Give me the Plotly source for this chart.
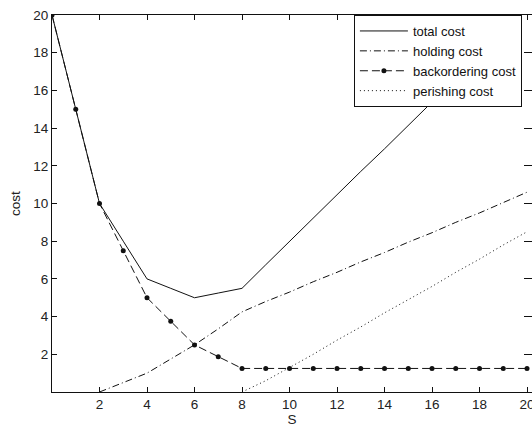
import plotly.graph_objects as go

S = list(range(0, 21))
total_cost = [20, 15, 10, 8, 6, 5.5, 5, 5.25, 5.5, 6.75, 8.0, 9.2, 10.45, 11.7, 12.9,
              14.15, 15.4, 16.6, 17.85, 19.1, 20.3]
holding_cost = [None, None, 0, 0.5, 1.0, 1.75, 2.5, 3.35, 4.25, 4.8, 5.3, 5.85, 6.35,
                6.9, 7.4, 7.95, 8.45, 9.0, 9.5, 10.05, 10.6]
backordering_cost = [20, 15, 10, 7.5, 5, 3.75, 2.5, 1.875, 1.25, 1.25, 1.25, 1.25, 1.25,
                     1.25, 1.25, 1.25, 1.25, 1.25, 1.25, 1.25, 1.25]
perishing_cost = [None] * 8 + [0, 0.6, 1.3, 2.0, 2.75, 3.45, 4.2, 4.9, 5.6, 6.35, 7.05,
                               7.8, 8.5]

x_ticks = [2, 4, 6, 8, 10, 12, 14, 16, 18, 20]
y_ticks = [2, 4, 6, 8, 10, 12, 14, 16, 18, 20]

FONT = "Liberation Sans, Arial, sans-serif"
INK = "#111111"

fig = go.Figure()
fig.add_trace(go.Scatter(x=S, y=total_cost, name="total cost", mode="lines",
                         line=dict(color=INK, width=1)))
fig.add_trace(go.Scatter(x=S, y=holding_cost, name="holding cost", mode="lines",
                         line=dict(color=INK, width=1, dash="7px,3px,1px,3px")))
fig.add_trace(go.Scatter(x=S, y=backordering_cost, name="backordering cost",
                         mode="lines+markers",
                         line=dict(color=INK, width=1, dash="8px,4px"),
                         marker=dict(symbol="circle", size=5, color=INK)))
fig.add_trace(go.Scatter(x=S, y=perishing_cost, name="perishing cost", mode="lines",
                         line=dict(color=INK, width=1, dash="1px,3px")))
# invisible companion trace so the right-hand tick axis is rendered
fig.add_trace(go.Scatter(x=S, y=backordering_cost, yaxis="y2", mode="lines",
                         line=dict(width=0), opacity=0, showlegend=False,
                         hoverinfo="skip"))

fig.update_layout(
    width=532, height=427,
    margin=dict(l=52, r=0, t=15, b=35),
    paper_bgcolor="white", plot_bgcolor="white",
    font=dict(family=FONT, size=13.5, color="#222222"),
    showlegend=True,
    legend=dict(x=0.629, y=1, xanchor="left", yanchor="top",
                bgcolor="white", bordercolor=INK, borderwidth=1,
                font=dict(family=FONT, size=13, color="#111111"),
                itemwidth=48, tracegroupgap=0),
    xaxis=dict(range=[0, 20.21], tickvals=x_ticks, ticks="inside", ticklen=5,
               tickcolor=INK, showline=True, linecolor=INK, linewidth=1,
               mirror="ticks", showgrid=False, zeroline=False,
               ticklabeloverflow="allow",
               title=dict(text="S", standoff=4, font=dict(size=13.5)),
               automargin=False),
    yaxis=dict(range=[0, 20], tickvals=y_ticks, ticks="inside", ticklen=5,
               tickcolor=INK, showline=True, linecolor=INK, linewidth=1,
               showgrid=False, zeroline=False,
               title=dict(text="cost", standoff=9, font=dict(size=13.5)),
               automargin=False),
    yaxis2=dict(range=[0, 20], overlaying="y", side="right", tickvals=y_ticks,
                ticks="inside", ticklen=8, tickcolor=INK, showticklabels=False,
                showline=False, showgrid=False, zeroline=False),
)

fig.write_html("out.html")
